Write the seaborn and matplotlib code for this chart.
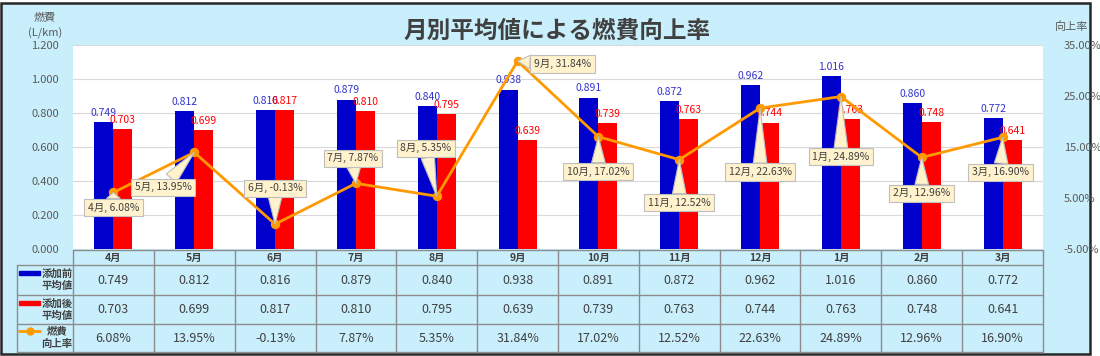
import numpy as np
import pandas as pd
import matplotlib
matplotlib.use("Agg")
import matplotlib.pyplot as plt
import matplotlib.patches as mpatches
from matplotlib.lines import Line2D
import seaborn as sns

sns.set_style("white")
plt.rcParams['font.family'] = ['Noto Sans CJK JP', 'DejaVu Sans']

# data
months = ["4月", "5月", "6月", "7月", "8月", "9月", "10月", "11月", "12月", "1月", "2月", "3月"]
before = [0.749, 0.812, 0.816, 0.879, 0.840, 0.938, 0.891, 0.872, 0.962, 1.016, 0.860, 0.772]
after = [0.703, 0.699, 0.817, 0.810, 0.795, 0.639, 0.739, 0.763, 0.744, 0.763, 0.748, 0.641]
rate = [6.08, 13.95, -0.13, 7.87, 5.35, 31.84, 17.02, 12.52, 22.63, 24.89, 12.96, 16.90]
series_names = ["添加前平均値", "添加後平均値"]
row_labels = ["添加前\n平均値", "添加後\n平均値", "燃費\n向上率"]

# callout offsets (pixels, y up) for the rate labels
call_off = [(0, -15), (-31, -35), (0, 36), (-3, 25), (-11, 48), (45, -3),
            (0, -35), (0, -43), (0, -64), (0, -60), (0, -36), (-2, -35)]

bg = "#C9EFFC"
blue = "#0000CC"
red = "#FF0000"
orange = "#FF9900"
gray = "#595959"
tcol = "#404040"

df = pd.DataFrame({
    "month": months * 2,
    "value": before + after,
    "series": [series_names[0]] * 12 + [series_names[1]] * 12,
})

W, H = 1100, 356
fig = plt.figure(figsize=(W / 100, H / 100), dpi=100, facecolor="white")
frame = mpatches.Rectangle((1 / W, 1 - 354 / H), 1089 / W, 351 / H,
                           transform=fig.transFigure, facecolor=bg,
                           edgecolor="#262626", linewidth=1.8, zorder=-10)
fig.patches.append(frame)

L, R = 73 / W, 1043 / W
ax = fig.add_axes([L, 1 - 249 / H, R - L, 204 / H])
ax.set_facecolor("white")
sns.barplot(data=df, x="month", y="value", hue="series", palette=[blue, red],
            width=0.47, saturation=1, ax=ax, legend=False, edgecolor="none")
ax.set_xlim(-0.5, 11.5)
ax.set_ylim(0, 1.2)
ax.set_yticks(np.arange(0, 1.21, 0.2))
ax.set_yticklabels([f"{v:.3f}" for v in np.arange(0, 1.21, 0.2)])
ax.set_xticks([])
ax.set_xlabel("")
ax.set_ylabel("")
ax.grid(axis="y", color="#D9D9D9", linewidth=0.8)
ax.set_axisbelow(True)
for s in ax.spines.values():
    s.set_visible(False)
ax.tick_params(axis="y", length=0, pad=10, labelsize=8, labelcolor=gray)

ax.bar_label(ax.containers[0], labels=[f"{v:.3f}" for v in before], padding=3,
             fontsize=7.5, color="#3333CC")
ax.bar_label(ax.containers[1], labels=[f"{v:.3f}" for v in after], padding=3,
             fontsize=7.5, color=red)

ax2 = ax.twinx()
x = np.arange(len(months))
sns.lineplot(x=x, y=rate, ax=ax2, color=orange, linewidth=2, marker="o",
             markersize=6, markeredgecolor=orange)
ax2.set_ylim(-5, 35)
ax2.set_yticks(np.arange(-5, 36, 10))
ax2.set_yticklabels([f"{v:.2f}%" for v in np.arange(-5, 36, 10)])
ax2.set_ylabel("")
for s in ax2.spines.values():
    s.set_visible(False)
ax2.tick_params(axis="y", length=0, pad=15, labelsize=8, labelcolor=gray)

for i, (m, r) in enumerate(zip(months, rate)):
    dx, dy = call_off[i]
    ax2.annotate(f"{m}, {r:.2f}%", xy=(i, r), xytext=(dx, dy),
                 textcoords="offset pixels", ha="center", va="center",
                 fontsize=7.5, color=tcol, zorder=5,
                 bbox=dict(boxstyle="square,pad=0.35", fc="#FFF2CC", ec="#BFBFBF", lw=0.8),
                 arrowprops=dict(arrowstyle="wedge,tail_width=1.3,shrink_factor=0.5",
                                 fc="#FFF2CC", ec="#BFBFBF", lw=0.8,
                                 shrinkA=0, shrinkB=0))

# title and axis captions
fig.text(557 / W, 1 - 31 / H, "月別平均値による燃費向上率", ha="center", va="center",
         fontsize=17, fontweight="bold", color=tcol)
fig.text(45 / W, 1 - 18 / H, "燃費", ha="center", va="center", fontsize=8, color=gray)
fig.text(45 / W, 1 - 33 / H, "(L/km)", ha="center", va="center", fontsize=8, color=gray)
fig.text(1072 / W, 1 - 27 / H, "向上率", ha="center", va="center", fontsize=8, color=gray)

# data table below the chart
tab = fig.add_axes([L, 1 - 352 / H, R - L, 102 / H])
tab.set_xlim(-0.5, 11.5)
tab.set_ylim(102, 0)
tab.axis("off")
edges = [0, 15, 45, 74, 102]
x_lab = -0.5 - 56 / (970 / 12)
lc = "#8C8C8C"
for y in edges:
    x0 = -0.5 if y == 0 else x_lab
    tab.plot([x0, 11.5], [y, y], color=lc, lw=1, clip_on=False)
for xv in np.arange(-0.5, 12, 1):
    tab.plot([xv, xv], [0, 102], color=lc, lw=1, clip_on=False)
tab.plot([x_lab, x_lab], [15, 102], color=lc, lw=1, clip_on=False)

rows = [[f"{v:.3f}" for v in before], [f"{v:.3f}" for v in after], [f"{v:.2f}%" for v in rate]]
for i, m in enumerate(months):
    tab.text(i, 7.5, m, ha="center", va="center", fontsize=7.5, fontweight="bold", color=tcol)
    for j, row in enumerate(rows):
        yc = (edges[j + 1] + edges[j + 2]) / 2
        tab.text(i, yc, row[i], ha="center", va="center", fontsize=9, color=tcol)

key_x0 = x_lab + 2 / 80.83
key_x1 = x_lab + 23 / 80.83
txt_x = -0.5 - 16 / 80.83
for j, lab in enumerate(row_labels):
    yc = (edges[j + 1] + edges[j + 2]) / 2
    tab.text(txt_x, yc, lab, ha="center", va="center", fontsize=7.5,
             fontweight="bold", color=tcol, linespacing=1.3, clip_on=False)
    ky = yc - 7
    if j < 2:
        tab.add_patch(mpatches.Rectangle((key_x0, ky - 2), key_x1 - key_x0, 4,
                                         color=[blue, red][j], clip_on=False))
    else:
        tab.add_line(Line2D([key_x0, key_x1], [ky, ky], color=orange, lw=2,
                            clip_on=False))
        tab.plot([(key_x0 + key_x1) / 2], [ky], marker="o", color=orange,
                 markersize=5, clip_on=False)

fig.savefig("out.png", dpi=100, facecolor=fig.get_facecolor())
